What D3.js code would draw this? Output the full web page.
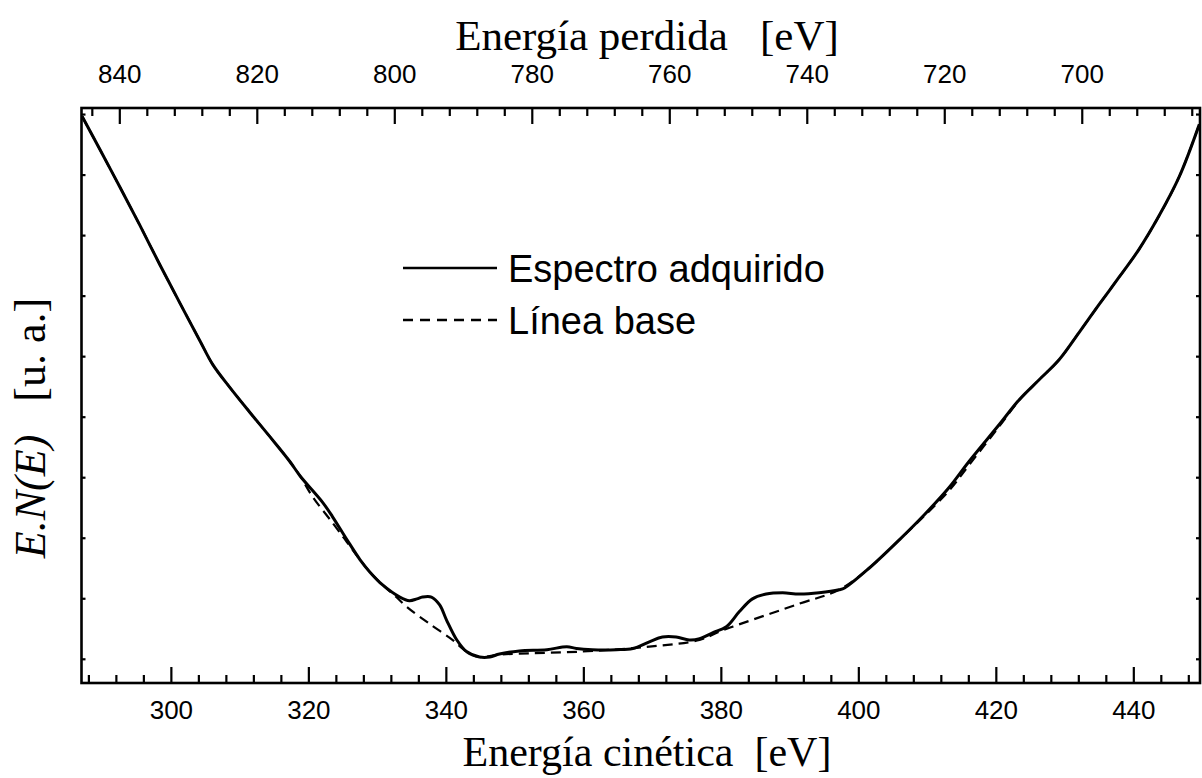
<!DOCTYPE html>
<html>
<head>
<meta charset="utf-8">
<script src="https://cdn.jsdelivr.net/npm/d3@7"></script>
<style>
  html, body { margin: 0; padding: 0; background: #fff; }
  svg { display: block; }
  .serif { font-family: "Liberation Serif", "Times New Roman", serif; }
  .sans { font-family: "Liberation Sans", Arial, Helvetica, sans-serif; }
</style>
</head>
<body>
<svg id="chart" width="1202" height="778"></svg>
<script>
// Kinetic energy (eV) and E.N(E) intensity (arbitrary units) of the acquired spectrum
const spectrumEnergy = [287.1, 289.7, 292.6, 295.5, 298.4, 301.3, 304.2, 306.1, 308.6, 311.5, 314.4, 317.3, 318.8,
  322.1, 323.5, 325.6, 327.5, 328.9, 330.8, 333.3, 334.7, 335.8, 336.6, 337.9, 339.1, 340.1, 341.6, 343.0, 344.9,
  346.4, 347.8, 350.7, 354.7, 357.6, 359.0, 361.3, 364.8, 367.2, 369.6, 371.5, 373.5, 375.4, 376.9, 378.8, 380.8,
  382.7, 384.6, 386.6, 389.0, 391.4, 394.3, 397.2, 398.0, 401.6, 406.0, 409.6, 413.2, 416.1, 420.5, 423.4, 426.3,
  429.2, 432.1, 435.0, 437.9, 440.8, 443.7, 446.7, 449.6];
const spectrumValue = [8.96, 8.41, 7.79, 7.16, 6.51, 5.88, 5.26, 4.86, 4.48, 4.07, 3.67, 3.26, 3.02,
  2.58, 2.35, 1.97, 1.64, 1.44, 1.22, 1.02, 0.96, 0.99, 1.02, 1.02, 0.89, 0.64, 0.31, 0.12, 0.03,
  0.03, 0.08, 0.13, 0.15, 0.20, 0.17, 0.15, 0.15, 0.17, 0.28, 0.36, 0.36, 0.31, 0.33, 0.43, 0.53,
  0.78, 0.99, 1.07, 1.09, 1.07, 1.09, 1.14, 1.17, 1.50, 1.97, 2.38, 2.83, 3.26, 3.87, 4.28, 4.61,
  4.94, 5.39, 5.85, 6.30, 6.76, 7.31, 7.97, 8.83];

// Background (baseline) under the spectrum
const baselineEnergy = [287.1, 289.7, 292.6, 295.5, 298.4, 301.3, 304.2, 306.1, 308.6, 311.5, 314.4, 317.3, 318.8,
  320.6, 323.5, 325.6, 327.5, 328.9, 330.8, 332.6,
  334.3, 337.6, 341.0, 343.0, 344.9, 347.8, 359.9, 369.6, 376.9, 379.8, 381.7, 391.4, 397.2, 401.6, 406.0, 409.6,
  413.2, 416.1, 420.5, 423.4, 426.3, 429.2, 432.1, 435.0, 437.9, 440.8, 443.7, 446.7, 449.6];
const baselineValue = [8.96, 8.41, 7.79, 7.16, 6.51, 5.88, 5.26, 4.86, 4.48, 4.07, 3.67, 3.26, 3.02,
  2.68, 2.25, 1.93, 1.64, 1.44, 1.22, 1.04,
  0.86, 0.58, 0.31, 0.12, 0.03, 0.07, 0.12, 0.20, 0.31, 0.45, 0.53, 0.91, 1.14, 1.50, 1.97, 2.36,
  2.78, 3.20, 3.84, 4.27, 4.61, 4.94, 5.39, 5.85, 6.30, 6.76, 7.31, 7.97, 8.83];

// Axis settings
const kineticTicks = [300, 320, 340, 360, 380, 400, 420, 440];
const lossTicks = [840, 820, 800, 780, 760, 740, 720, 700];
const primaryEnergy = 1132.5;          // energy loss = primaryEnergy - kinetic energy
const kineticDomain = [287.0, 449.7];
const intensityDomain = [-0.4, 9.1];
const intensityTicks = [0, 1, 2, 3, 4, 5, 6, 7, 8, 9];

const legendLabels = ["Espectro adquirido", "Línea base"];
const topTitle = "Energía perdida   [eV]";
const bottomTitle = "Energía cinética  [eV]";

const svg = d3.select("#chart");
const frame = { left: 81.5, right: 1200, top: 108, bottom: 683 };

const x = d3.scaleLinear().domain(kineticDomain).range([frame.left, frame.right]);
const xLoss = d3.scaleLinear()
  .domain(kineticDomain.map(k => primaryEnergy - k))
  .range([frame.left, frame.right]);
const y = d3.scaleLinear().domain(intensityDomain).range([frame.bottom, frame.top]);

const stepRange = (a, b, s) => d3.range(a, b + 1e-9, s);

// Bottom axis: major ticks with labels, minor every 4 eV, all pointing inward
const bottomMinor = svg.append("g").attr("transform", `translate(0,${frame.bottom})`)
  .call(d3.axisBottom(x).tickValues(stepRange(288, 448, 4).filter(v => v % 20 !== 0))
    .tickSize(-8).tickFormat(""));
const bottomMajor = svg.append("g").attr("transform", `translate(0,${frame.bottom})`)
  .call(d3.axisBottom(x).tickValues(kineticTicks).tickSize(-16).tickPadding(18).tickFormat(d3.format("d")));

// Top axis: energy loss
const topMinor = svg.append("g").attr("transform", `translate(0,${frame.top})`)
  .call(d3.axisTop(xLoss).tickValues(stepRange(684, 844, 4).filter(v => v % 20 !== 0))
    .tickSize(-8).tickFormat(""));
const topMajor = svg.append("g").attr("transform", `translate(0,${frame.top})`)
  .call(d3.axisTop(xLoss).tickValues(lossTicks).tickSize(-16).tickPadding(25).tickFormat(d3.format("d")));

// Left and right axes: short inward ticks only
const leftAxis = svg.append("g").attr("transform", `translate(${frame.left},0)`)
  .call(d3.axisLeft(y).tickValues(intensityTicks).tickSize(-4).tickFormat(""));
const rightAxis = svg.append("g").attr("transform", `translate(${frame.right},0)`)
  .call(d3.axisRight(y).tickValues(intensityTicks).tickSize(-4).tickFormat(""));

[bottomMinor, bottomMajor, topMinor, topMajor, leftAxis, rightAxis].forEach(g => {
  g.select(".domain").remove();
  g.selectAll(".tick line").attr("stroke", "#000").attr("stroke-width", 2.2);
  g.selectAll(".tick text").attr("class", "sans").attr("font-size", 26).attr("fill", "#000");
});

// Plot frame
svg.append("rect")
  .attr("x", frame.left).attr("y", frame.top)
  .attr("width", frame.right - frame.left).attr("height", frame.bottom - frame.top)
  .attr("fill", "none").attr("stroke", "#000").attr("stroke-width", 2.6);

svg.append("clipPath").attr("id", "plot-clip")
  .append("rect").attr("x", frame.left).attr("y", frame.top - 2)
  .attr("width", frame.right - frame.left).attr("height", frame.bottom - frame.top + 2);

const line = d3.line()
  .x(d => x(d[0])).y(d => y(d[1]))
  .curve(d3.curveCatmullRom.alpha(0.5));

const baselineData = baselineEnergy.map((e, i) => [e, baselineValue[i]]);
const spectrumData = spectrumEnergy.map((e, i) => [e, spectrumValue[i]]);

const plot = svg.append("g").attr("clip-path", "url(#plot-clip)");
plot.append("path").datum(baselineData)
  .attr("d", line).attr("fill", "none").attr("stroke", "#000")
  .attr("stroke-width", 2.2).attr("stroke-dasharray", "10,6");
plot.append("path").datum(spectrumData)
  .attr("d", line).attr("fill", "none").attr("stroke", "#000")
  .attr("stroke-width", 3).attr("stroke-linejoin", "round");

// Legend
const legend = svg.append("g");
const legendStyles = [null, "10,7"];
legendLabels.forEach((label, i) => {
  const ly = 268 + i * 52;
  legend.append("line")
    .attr("x1", 403).attr("x2", 497).attr("y1", ly).attr("y2", ly)
    .attr("stroke", "#000").attr("stroke-width", 2.4)
    .attr("stroke-dasharray", legendStyles[i]);
  legend.append("text").attr("class", "sans")
    .attr("x", 508).attr("y", ly + 14)
    .attr("font-size", 38).attr("fill", "#000")
    .text(label);
});

// Axis titles
svg.append("text").attr("class", "serif")
  .attr("x", 647).attr("y", 50).attr("text-anchor", "middle")
  .attr("font-size", 43).style("white-space", "pre").text(topTitle);
svg.append("text").attr("class", "serif")
  .attr("x", 647).attr("y", 766).attr("text-anchor", "middle")
  .attr("font-size", 42).style("white-space", "pre").text(bottomTitle);

const yTitle = svg.append("text").attr("class", "serif")
  .attr("transform", `translate(45,428) rotate(-90)`)
  .attr("text-anchor", "middle").attr("font-size", 44).style("white-space", "pre");
yTitle.append("tspan").attr("font-style", "italic").text("E.N(E)");
yTitle.append("tspan").text("   [u. a.]");
</script>
</body>
</html>
